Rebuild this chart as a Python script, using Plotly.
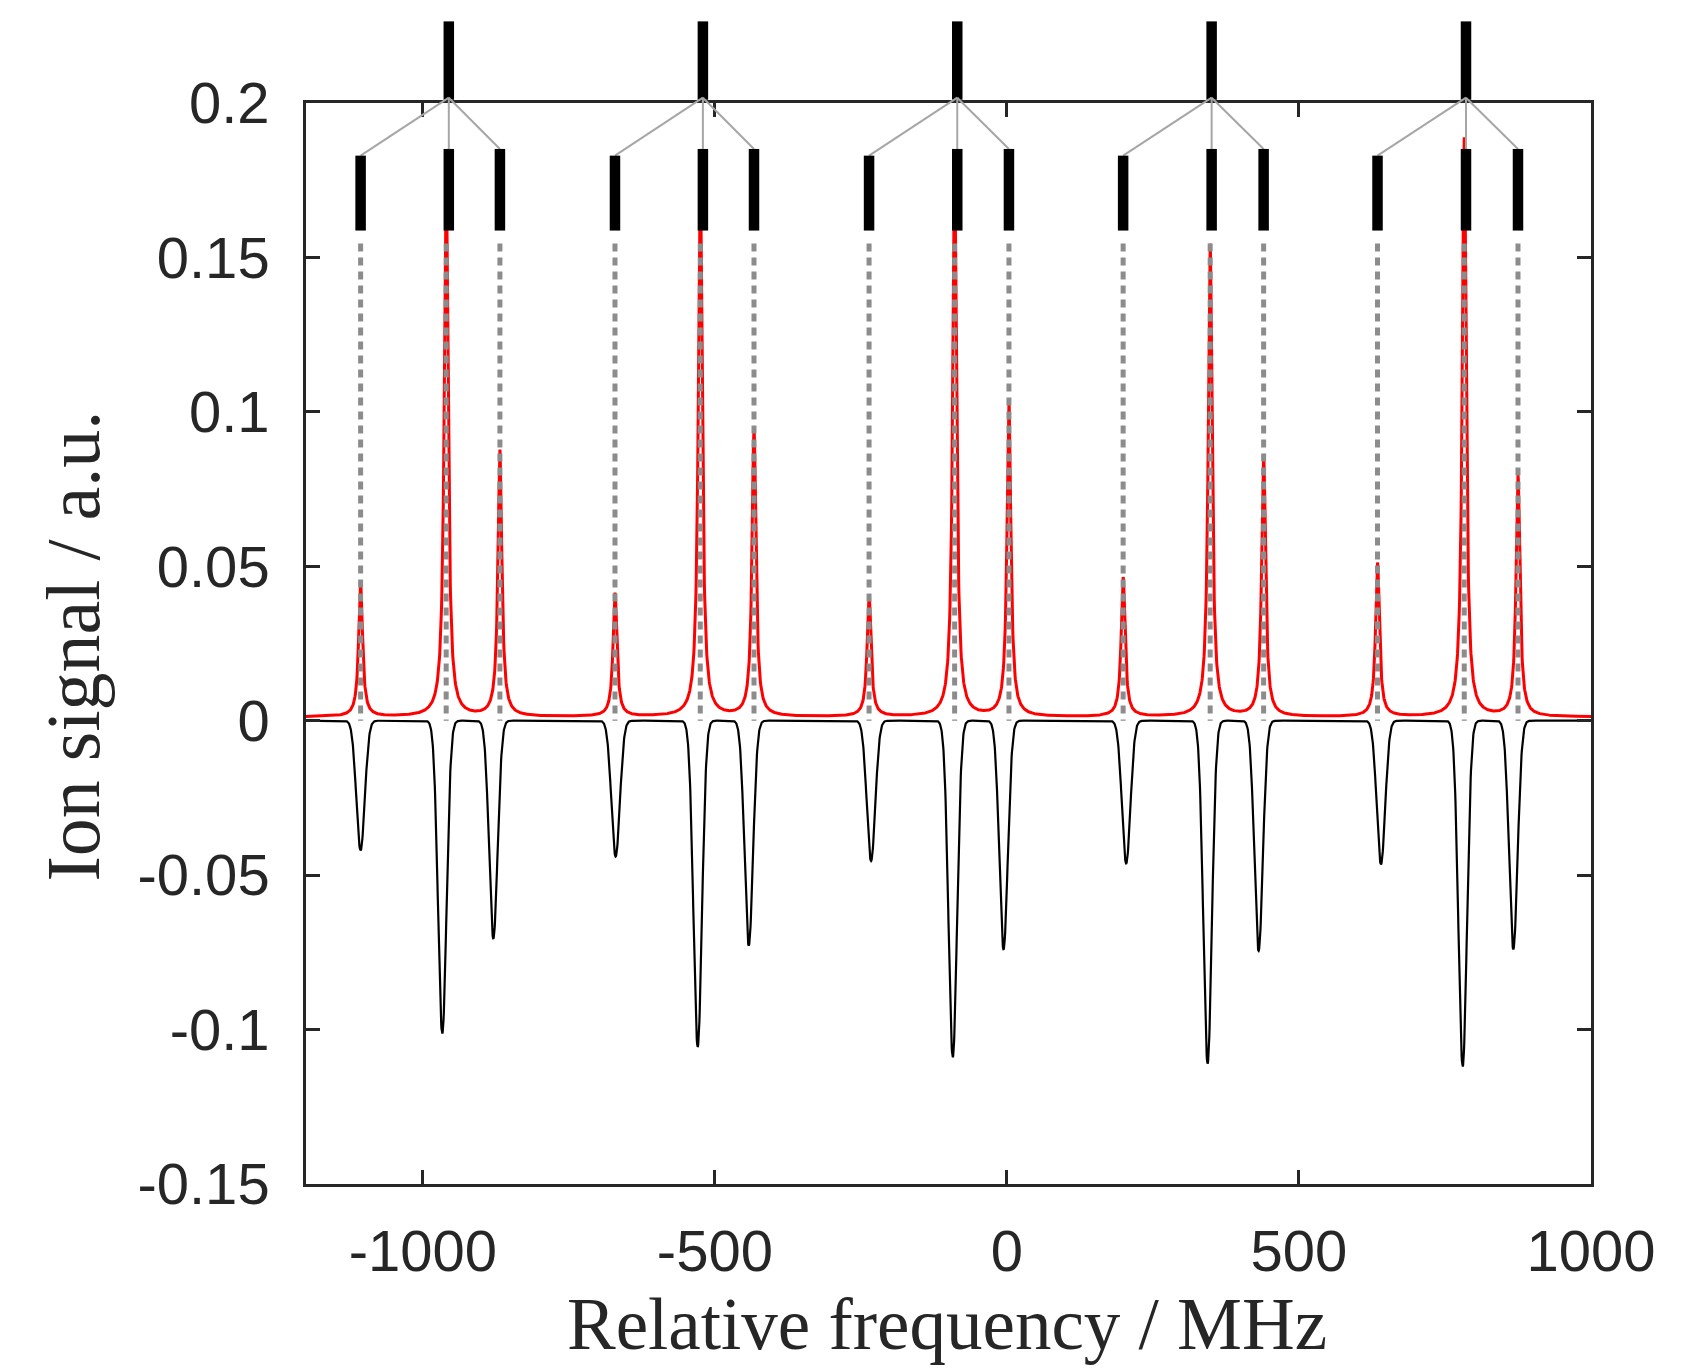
import numpy as np
import plotly.graph_objects as go

# ---------------- data ----------------
# experimental (red) peaks: centre frequency / MHz and peak height / a.u.
exp_freq = [-1106.5, -960.0, -868.0, -671.0, -525.0, -433.0, -236.0, -89.5, 3.5,
            199.0, 348.0, 439.5, 634.5, 783.0, 875.0]
exp_height = [0.0435, 0.175, 0.0862, 0.0400, 0.176, 0.0932, 0.0395, 0.175, 0.1017,
              0.0451, 0.1530, 0.0848, 0.0498, 0.1875, 0.0781]
exp_fwhm = 8.0          # MHz, Lorentzian
exp_offset = 0.0012     # baseline

# simulated (black, plotted negative) peaks
sim_freq = [-1106.6, -966.7, -879.3, -669.9, -529.4, -442.0, -232.6, -92.7, -5.8,
            204.2, 343.6, 430.9, 640.4, 780.3, 867.0]
sim_depth = [-0.0420, -0.1013, -0.0705, -0.0440, -0.1056, -0.0728, -0.0454, -0.1090, -0.0740,
             -0.0462, -0.1110, -0.0745, -0.0465, -0.1120, -0.0740]
sim_fwhm = 17.0         # MHz, Gaussian

# stick diagram: parent level of each group and the three sub-lines
stick_parent = [-955.5, -520.5, -85.0, 350.5, 786.0]
stick_children = [[-1106.5, -955.5, -868.0],
                  [-671.0, -520.5, -433.0],
                  [-236.0, -85.0, 3.5],
                  [199.0, 350.5, 439.5],
                  [634.5, 786.0, 875.0]]

x_ticks = [-1000, -500, 0, 500, 1000]
x_ticktext = ["-1000", "-500", "0", "500", "1000"]
y_ticks = [-0.15, -0.1, -0.05, 0, 0.05, 0.1, 0.15, 0.2]
y_ticktext = ["-0.15", "-0.1", "-0.05", "0", "0.05", "0.1", "0.15", "0.2"]

x_title = "Relative frequency / MHz"
y_title = "Ion signal / a.u."

# ---------------- line profiles ----------------
f = np.arange(-1200.0, 1000.0001, 0.5)
red = np.full_like(f, exp_offset)
for c, h in zip(exp_freq, exp_height):
    red += h / (1.0 + ((f - c) / (exp_fwhm / 2.0)) ** 2)
black = np.zeros_like(f)
sig = sim_fwhm / (2.0 * np.sqrt(2.0 * np.log(2.0)))
for c, h in zip(sim_freq, sim_depth):
    black += h * np.exp(-0.5 * ((f - c) / sig) ** 2)

# dotted guide lines from 0 up to the stick bars
dot_x, dot_y = [], []
for c in exp_freq:
    dot_x += [c, c, None]
    dot_y += [0.1545, 0.0, None]

TXT = "#262626"
fig = go.Figure()
fig.add_trace(go.Scatter(x=f, y=red, mode="lines",
                         line=dict(color="#ff0000", width=3), hoverinfo="skip"))
fig.add_trace(go.Scatter(x=f, y=black, mode="lines",
                         line=dict(color="#000000", width=2.2), hoverinfo="skip"))
fig.add_trace(go.Scatter(x=dot_x, y=dot_y, mode="lines",
                         line=dict(color="#8c8c8c", width=5, dash="8px,6px"),
                         hoverinfo="skip"))

# ---------------- stick diagram (above the axes) ----------------
P_TOP, P_BOT = 1.0755, 1.0030        # big bars
JOIN = 1.0049                         # where grey lines meet
S_TOP_L, S_TOP, S_BOT = 0.9513, 0.9575, 0.8820
shapes = []
for parent, kids in zip(stick_parent, stick_children):
    shapes.append(dict(type="line", xref="x", yref="paper", x0=parent, x1=parent,
                       y0=P_BOT, y1=P_TOP, line=dict(color="#000000", width=10.5),
                       layer="above"))
    for i, k in enumerate(kids):
        top = S_TOP_L if i == 0 else S_TOP
        shapes.append(dict(type="line", xref="x", yref="paper", x0=parent, x1=k,
                           y0=JOIN, y1=top, line=dict(color="#a6a6a6", width=2),
                           layer="above"))
        shapes.append(dict(type="line", xref="x", yref="paper", x0=k, x1=k,
                           y0=S_BOT, y1=top, line=dict(color="#000000", width=10.5),
                           layer="above"))

axis_common = dict(showgrid=False, zeroline=False, showline=True, linewidth=2.5,
                   linecolor=TXT, mirror="ticks", ticks="inside", ticklen=14,
                   tickwidth=2.5, tickcolor=TXT,
                   tickfont=dict(family="Liberation Sans, Arial, sans-serif",
                                 size=58, color=TXT))

fig.update_layout(
    width=1705, height=1369,
    margin=dict(l=306, r=114, t=103, b=185),
    paper_bgcolor="white", plot_bgcolor="white",
    showlegend=False,
    shapes=shapes,
    xaxis=dict(range=[-1200, 1000], tickvals=x_ticks, ticktext=x_ticktext,
               ticklabelstandoff=15, **axis_common),
    yaxis=dict(range=[-0.15, 0.2], tickvals=y_ticks, ticktext=y_ticktext,
               ticklabelstandoff=22, **axis_common),
    annotations=[
        dict(text=x_title, xref="paper", yref="paper", x=0.4987, y=-0.130,
             xanchor="center", yanchor="middle", showarrow=False,
             font=dict(family="Liberation Serif, Times New Roman, serif",
                       size=73, color=TXT)),
        dict(text=y_title, xref="paper", yref="paper", x=-0.1815, y=0.498,
             xanchor="center", yanchor="middle", showarrow=False, textangle=-90,
             font=dict(family="Liberation Serif, Times New Roman, serif",
                       size=76, color=TXT)),
    ],
)

fig.write_html("out.html")
